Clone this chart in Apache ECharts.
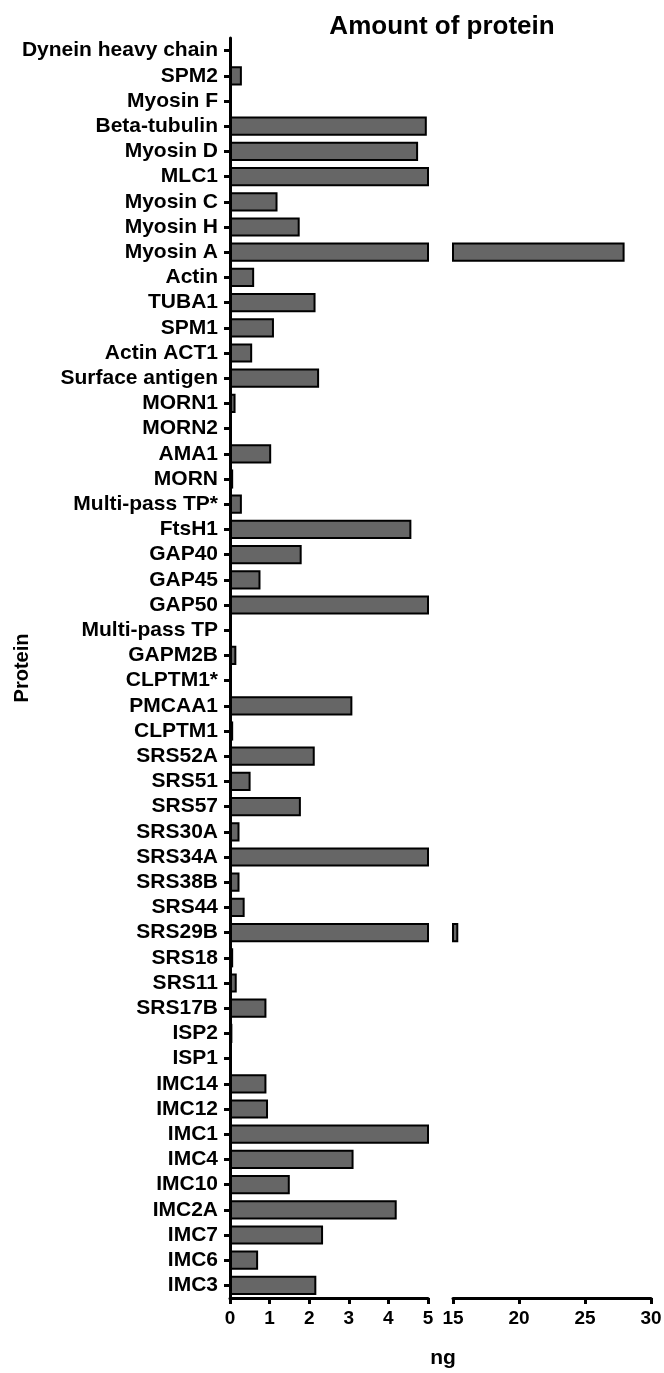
<!DOCTYPE html>
<html>
<head>
<meta charset="utf-8">
<script src="https://cdn.jsdelivr.net/npm/echarts@6/dist/echarts.min.js"></script>
<style>
html,body{margin:0;padding:0;background:#fff;}
#chart{width:664px;height:1373px;}
</style>
</head>
<body>
<div id="chart"></div>
<script>
var categories = ['Dynein heavy chain','SPM2','Myosin F','Beta-tubulin','Myosin D','MLC1','Myosin C','Myosin H','Myosin A','Actin','TUBA1','SPM1','Actin ACT1','Surface antigen','MORN1','MORN2','AMA1','MORN','Multi-pass TP*','FtsH1','GAP40','GAP45','GAP50','Multi-pass TP','GAPM2B','CLPTM1*','PMCAA1','CLPTM1','SRS52A','SRS51','SRS57','SRS30A','SRS34A','SRS38B','SRS44','SRS29B','SRS18','SRS11','SRS17B','ISP2','ISP1','IMC14','IMC12','IMC1','IMC4','IMC10','IMC2A','IMC7','IMC6','IMC3'];
var amountNg = [0,0.3,0.05,4.97,4.75,8,1.2,1.76,28.0,0.61,2.16,1.11,0.56,2.25,0.14,0,1.04,0.08,0.3,4.58,1.81,0.77,9,0,0.16,0.04,3.09,0.08,2.14,0.52,1.79,0.24,7,0.24,0.37,15.4,0.08,0.17,0.92,0.06,0,0.92,0.96,10,3.12,1.51,4.21,2.35,0.71,2.18];
var lowTicks = [0,1,2,3,4,5];
var highTicks = [15,20,25,30];
var lowRange = [0,5];
var highRange = [15,30];

var FONT = '"Liberation Sans", Arial, Helvetica, sans-serif';
var highData = amountNg.map(function(v){ return v > highRange[0] ? v : '-'; });

var chart = echarts.init(document.getElementById('chart'), null, {renderer:'canvas'});
var axisLine = {show:true, lineStyle:{color:'#000', width:3}};
var axisTick = {show:true, length:6, lineStyle:{color:'#000', width:3}};
var barStyle = {color:'#666666', borderColor:'#000', borderWidth:2};

chart.setOption({
  animation:false,
  backgroundColor:'#fff',
  title:[
    {text:'Amount of protein', left:437, top:9, textAlign:'center',
     textStyle:{fontFamily:FONT, fontWeight:'bold', fontSize:26, color:'#000'}},
    {text:'ng', left:438, top:1343, textAlign:'center',
     textStyle:{fontFamily:FONT, fontWeight:'bold', fontSize:21, color:'#000'}}
  ],
  grid:[
    {left:230, right:236, top:38, bottom:75, containLabel:false, outerBoundsMode:'none'},
    {left:453, right:13, top:38, bottom:75, containLabel:false, outerBoundsMode:'none'}
  ],
  xAxis:[
    {gridIndex:0, type:'value', min:lowRange[0], max:lowRange[1], interval:1,
     axisLine:axisLine, axisTick:axisTick, splitLine:{show:false},
     axisLabel:{fontFamily:FONT, fontWeight:'bold', fontSize:19, color:'#000', margin:11,
       customValues: lowTicks}},
    {gridIndex:1, type:'value', min:highRange[0], max:highRange[1], interval:5,
     axisLine:axisLine, axisTick:axisTick, splitLine:{show:false},
     axisLabel:{fontFamily:FONT, fontWeight:'bold', fontSize:19, color:'#000', margin:11,
       customValues: highTicks}}
  ],
  yAxis:[
    {gridIndex:0, type:'category', inverse:true, data:categories,
     axisLine:axisLine,
     axisTick:{show:true, alignWithLabel:true, length:6, lineStyle:{color:'#000', width:3}},
     axisLabel:{fontFamily:FONT, fontWeight:'bold', fontSize:21, color:'#000', margin:12, interval:0},
     name:'Protein', nameLocation:'middle', nameRotate:90, nameGap:198, nameMoveOverlap:false,
     nameTextStyle:{fontFamily:FONT, fontWeight:'bold', fontSize:20, color:'#000'}},
    {gridIndex:1, type:'category', inverse:true, data:categories, show:false}
  ],
  series:[
    {type:'bar', xAxisIndex:0, yAxisIndex:0, data:amountNg, barCategoryGap:'24%',
     itemStyle:barStyle, clip:true},
    {type:'bar', xAxisIndex:1, yAxisIndex:1, data:highData, barCategoryGap:'24%',
     itemStyle:barStyle, clip:true}
  ]
});
</script>
</body>
</html>
